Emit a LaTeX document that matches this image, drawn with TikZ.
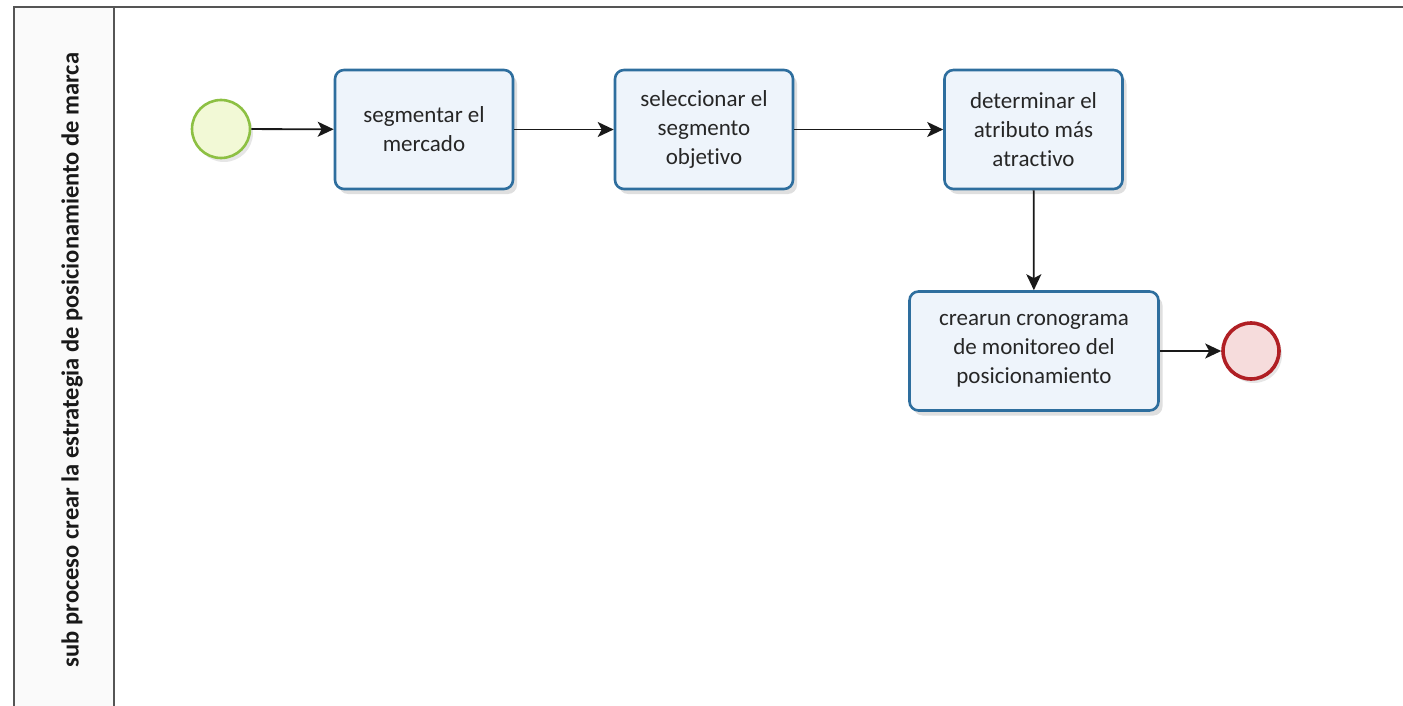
\documentclass[tikz,border=0pt]{standalone}
\usepackage{fontspec}
\setmainfont{Carlito}[Ligatures=NoCommon]
\usetikzlibrary{arrows.meta,shadows}
\definecolor{taskline}{HTML}{2E6E9E}
\definecolor{taskfill}{HTML}{EEF4FB}
\definecolor{startline}{HTML}{8DC043}
\definecolor{startfill}{HTML}{F2F9D6}
\definecolor{endline}{HTML}{B01F24}
\definecolor{endfill}{HTML}{F6DCDC}
\definecolor{poolline}{HTML}{555555}
\tikzset{
  taskbox/.style={draw=taskline, line width=2.6pt, fill=taskfill, rounded corners=9pt,
    minimum width=178pt, minimum height=119pt, align=center, font=\fontsize{23}{29}\selectfont,
    text=black!85, drop shadow={shadow xshift=4pt, shadow yshift=-5pt, opacity=0.25}},
  startev/.style={circle, draw=startline, line width=2.6pt, fill=startfill, minimum size=58pt,
    drop shadow={shadow xshift=3pt, shadow yshift=-4pt, opacity=0.2}},
  endev/.style={circle, draw=endline, line width=3.6pt, fill=endfill, minimum size=56pt,
    drop shadow={shadow xshift=3pt, shadow yshift=-4pt, opacity=0.2}},
  flow/.style={-{Stealth[length=16pt,width=15pt,inset=4pt]}, line width=1.8pt, black!90},
}
\begin{document}
\begin{tikzpicture}[x=1pt,y=-1pt]
\useasboundingbox (0,0) rectangle (1403,706);
\begin{scope}
\clip (0,0) rectangle (1403,706);
% pool and lane header
\fill[black!2] (14,7) rectangle (114,720);
\draw[poolline, line width=2pt] (14,720) -- (14,7) -- (1420,7);
\draw[poolline, line width=2pt] (114,7) -- (114,720);
\end{scope}
\node[rotate=90, font=\fontsize{24.5}{28}\selectfont\bfseries, text=black!90] (lane) at (72,360)
  {sub proceso crear la estrategia de posicionamiento de marca};

\node[startev] (start) at (221,129) {};
\node[taskbox] (t1) at (424,129.5) {segmentar el\\mercado};
\node[taskbox] (t2) at (704,129.5) {seleccionar el\\segmento\\objetivo};
\node[taskbox] (t3) at (1033.5,129.5) {determinar el\\atributo más\\atractivo};
\node[taskbox, minimum width=249pt] (t4) at (1034,351) {crearun cronograma\\de monitoreo del\\posicionamiento};
\node[endev] (end) at (1251,351) {};

\draw[flow] (start) -- (t1);
\draw[flow] (t1) -- (t2);
\draw[flow] (t2) -- (t3);
\draw[flow] (t3) -- (t4);
\draw[flow] (t4) -- (end);
\end{tikzpicture}
\end{document}
